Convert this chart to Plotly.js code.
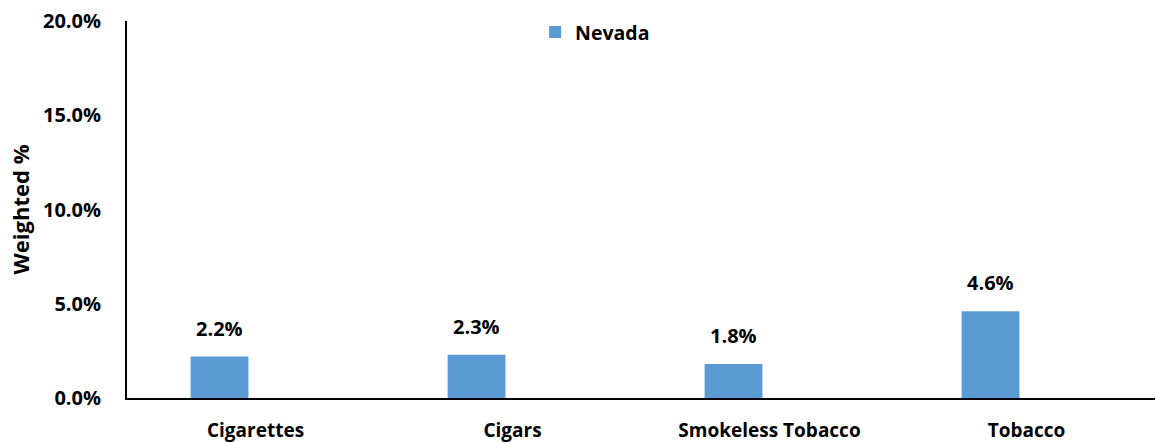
<!DOCTYPE html>
<html>
<head>
<meta charset="utf-8">
<script src="https://cdn.plot.ly/plotly-3.0.1.min.js"></script>
<style>html,body{margin:0;padding:0;background:#fff;}#chart{width:1156px;height:442px;}</style>
</head>
<body>
<div id="chart"></div>
<script>
const categories = ["Cigarettes", "Cigars", "Smokeless Tobacco", "Tobacco"];
const nevadaValues = [2.2, 2.3, 1.8, 4.6];
const yTickValues = [0, 5, 10, 15, 20];
const yTickLabels = ["0.0%", "5.0%", "10.0%", "15.0%", "20.0%"];
const seriesName = "Nevada";

const FONT = "Open Sans, Liberation Sans, sans-serif";
const BAR_WIDTH = 0.225;
const BAR_SHIFT = -0.14; // bars sit left of category centre, as in the reference

const trace = {
  type: "bar",
  name: seriesName,
  x: categories,
  y: nevadaValues,
  width: BAR_WIDTH,
  offset: BAR_SHIFT - BAR_WIDTH / 2,
  marker: {color: "#5B9BD5"},
  hoverinfo: "skip"
};

const annotations = categories.map((c, i) => ({
  x: c, y: nevadaValues[i], xref: "x", yref: "y",
  text: nevadaValues[i].toFixed(1) + "%",
  showarrow: false, yanchor: "bottom", yshift: 13, xshift: -36,
  font: {family: FONT, size: 20, color: "#000", weight: "bold"}
}));

const layout = {
  width: 1156, height: 442,
  margin: {l: 127, r: 1, t: 21, b: 44},
  paper_bgcolor: "#fff", plot_bgcolor: "#fff",
  showlegend: true,
  legend: {x: 0.397, y: 0.97, xanchor: "left", yanchor: "middle",
    itemwidth: 30,
    font: {family: FONT, size: 19.5, color: "#000", weight: "bold"},
    bgcolor: "rgba(0,0,0,0)"},
  xaxis: {
    type: "category", range: [-0.5, 3.5],
    showline: true, linecolor: "#000", linewidth: 2,
    showgrid: false, zeroline: false, ticks: "",
    ticklabelstandoff: 14,
    tickfont: {family: FONT, size: 19, color: "#000", weight: "bold"}
  },
  yaxis: {
    range: [0, 20], tickvals: yTickValues, ticktext: yTickLabels,
    showline: true, linecolor: "#000", linewidth: 2,
    showgrid: false, zeroline: false, ticks: "",
    ticklabelstandoff: 20,
    tickfont: {family: FONT, size: 20, color: "#000", weight: "bold"},
    title: {text: "Weighted %", standoff: 7,
      font: {family: FONT, size: 22, color: "#000", weight: "bold"}}
  },
  annotations: annotations
};

Plotly.newPlot("chart", [trace], layout, {staticPlot: true, displayModeBar: false});
</script>
</body>
</html>
